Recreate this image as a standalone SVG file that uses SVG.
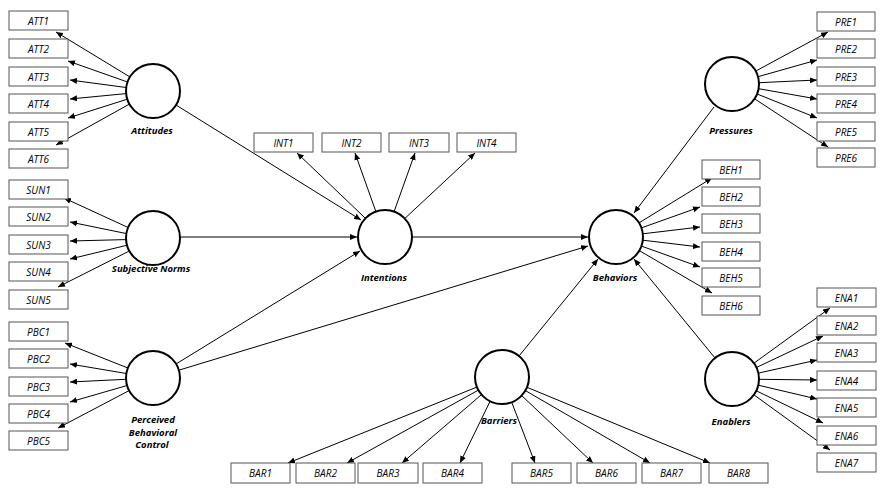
<svg xmlns="http://www.w3.org/2000/svg" width="887" height="493" viewBox="0 0 887 493">
<style>
.box rect{fill:#fff;stroke:#555;stroke-width:1}
.box text{font-family:"Open Sans",sans-serif;font-style:italic;font-size:10px;text-anchor:middle;fill:#000}
.lv circle{fill:#fff;stroke:#000;stroke-width:2}
.lv text{font-family:"Open Sans",sans-serif;font-style:italic;font-weight:bold;font-size:9.5px;text-anchor:middle;fill:#000}
#connectors line{stroke:#000;stroke-width:1;marker-end:url(#ah)}
</style>
<defs>
<marker id="ah" markerUnits="userSpaceOnUse" markerWidth="8" markerHeight="6" refX="7" refY="3" orient="auto">
<path d="M0,0 L7,3 L0,6 z" fill="#000"/>
</marker>
</defs>
<rect width="887" height="493" fill="#fff"/>
<g id="connectors">
<line x1="130" y1="77" x2="56" y2="32"/>
<line x1="127.5" y1="82" x2="68" y2="61"/>
<line x1="126.2" y1="87.5" x2="70" y2="80"/>
<line x1="126.1" y1="93.6" x2="70" y2="99"/>
<line x1="127.3" y1="99.2" x2="68" y2="118"/>
<line x1="129.4" y1="104.1" x2="56" y2="145"/>
<line x1="176" y1="105" x2="361" y2="220"/>
<line x1="128.5" y1="227.7" x2="64" y2="198"/>
<line x1="126.5" y1="233.6" x2="70" y2="222"/>
<line x1="126" y1="239.6" x2="70" y2="241"/>
<line x1="126.8" y1="245.3" x2="70" y2="259"/>
<line x1="128.9" y1="251.2" x2="58" y2="287"/>
<line x1="180" y1="237" x2="357" y2="237"/>
<line x1="127.9" y1="368" x2="65" y2="343"/>
<line x1="126.4" y1="373.5" x2="70" y2="364"/>
<line x1="126" y1="379.3" x2="70" y2="382"/>
<line x1="127.1" y1="385.5" x2="70" y2="402"/>
<line x1="129.1" y1="390.6" x2="58" y2="428"/>
<line x1="176" y1="364" x2="360" y2="251"/>
<line x1="178.8" y1="370.2" x2="588" y2="246"/>
<line x1="365.5" y1="218.4" x2="297" y2="153"/>
<line x1="375.9" y1="211.6" x2="355" y2="153"/>
<line x1="394.1" y1="211.6" x2="415" y2="153"/>
<line x1="404.7" y1="218.6" x2="475" y2="153"/>
<line x1="412" y1="237" x2="588" y2="237"/>
<line x1="639" y1="222.9" x2="712" y2="178"/>
<line x1="641.4" y1="227.9" x2="700" y2="207"/>
<line x1="642.8" y1="233.8" x2="700" y2="227"/>
<line x1="642.8" y1="240.2" x2="700" y2="247"/>
<line x1="641.4" y1="246.1" x2="700" y2="267"/>
<line x1="639.3" y1="250.6" x2="712" y2="293"/>
<line x1="755.7" y1="71.1" x2="828" y2="32"/>
<line x1="758" y1="76.7" x2="817" y2="60"/>
<line x1="759" y1="82.7" x2="817" y2="80"/>
<line x1="758.6" y1="88.7" x2="817" y2="99"/>
<line x1="757.1" y1="94" x2="817" y2="118"/>
<line x1="754.6" y1="98.8" x2="828" y2="147"/>
<line x1="714" y1="107" x2="634" y2="213"/>
<line x1="753.9" y1="363.2" x2="830" y2="308"/>
<line x1="756.4" y1="367.5" x2="823" y2="336"/>
<line x1="758.4" y1="373.1" x2="817" y2="360"/>
<line x1="759" y1="379.3" x2="817" y2="380"/>
<line x1="758.3" y1="385.2" x2="817" y2="399"/>
<line x1="756.3" y1="390.8" x2="823" y2="423"/>
<line x1="753.9" y1="394.8" x2="830" y2="450"/>
<line x1="715" y1="358" x2="634" y2="259"/>
<line x1="476.9" y1="387.1" x2="288" y2="463"/>
<line x1="478.4" y1="390.1" x2="347" y2="463"/>
<line x1="481.5" y1="394.6" x2="402" y2="463"/>
<line x1="490.1" y1="401.3" x2="460" y2="463"/>
<line x1="511.7" y1="402.2" x2="535" y2="463"/>
<line x1="521.6" y1="395.5" x2="593" y2="463"/>
<line x1="525.4" y1="390.6" x2="650" y2="463"/>
<line x1="527" y1="387.3" x2="710" y2="463"/>
<line x1="519" y1="356" x2="598" y2="259"/>
</g>
<g id="ATT1" class="box"><rect x="9" y="11" width="59" height="19"/><text x="38.5" y="24.5">ATT1</text></g>
<g id="ATT2" class="box"><rect x="9" y="39" width="59" height="19"/><text x="38.5" y="52.5">ATT2</text></g>
<g id="ATT3" class="box"><rect x="9" y="67" width="59" height="19"/><text x="38.5" y="80.5">ATT3</text></g>
<g id="ATT4" class="box"><rect x="9" y="94" width="59" height="19"/><text x="38.5" y="107.5">ATT4</text></g>
<g id="ATT5" class="box"><rect x="9" y="122" width="59" height="19"/><text x="38.5" y="135.5">ATT5</text></g>
<g id="ATT6" class="box"><rect x="9" y="149" width="59" height="19"/><text x="38.5" y="162.5">ATT6</text></g>
<g id="SUN1" class="box"><rect x="9" y="180" width="59" height="19"/><text x="38.5" y="193.5">SUN1</text></g>
<g id="SUN2" class="box"><rect x="9" y="207" width="59" height="19"/><text x="38.5" y="220.5">SUN2</text></g>
<g id="SUN3" class="box"><rect x="9" y="235" width="59" height="19"/><text x="38.5" y="248.5">SUN3</text></g>
<g id="SUN4" class="box"><rect x="9" y="262" width="59" height="19"/><text x="38.5" y="275.5">SUN4</text></g>
<g id="SUN5" class="box"><rect x="9" y="290" width="59" height="19"/><text x="38.5" y="303.5">SUN5</text></g>
<g id="PBC1" class="box"><rect x="9" y="322" width="59" height="19"/><text x="38.5" y="335.5">PBC1</text></g>
<g id="PBC2" class="box"><rect x="9" y="349" width="59" height="19"/><text x="38.5" y="362.5">PBC2</text></g>
<g id="PBC3" class="box"><rect x="9" y="377" width="59" height="19"/><text x="38.5" y="390.5">PBC3</text></g>
<g id="PBC4" class="box"><rect x="9" y="404" width="59" height="19"/><text x="38.5" y="417.5">PBC4</text></g>
<g id="PBC5" class="box"><rect x="9" y="431" width="59" height="19"/><text x="38.5" y="444.5">PBC5</text></g>
<g id="INT1" class="box"><rect x="254" y="133" width="59" height="19"/><text x="283.5" y="146.5">INT1</text></g>
<g id="INT2" class="box"><rect x="322" y="133" width="59" height="19"/><text x="351.5" y="146.5">INT2</text></g>
<g id="INT3" class="box"><rect x="389" y="133" width="60" height="19"/><text x="419" y="146.5">INT3</text></g>
<g id="INT4" class="box"><rect x="457" y="133" width="59" height="19"/><text x="486.5" y="146.5">INT4</text></g>
<g id="BEH1" class="box"><rect x="702" y="160" width="58" height="19"/><text x="731" y="173.5">BEH1</text></g>
<g id="BEH2" class="box"><rect x="702" y="187" width="58" height="19"/><text x="731" y="200.5">BEH2</text></g>
<g id="BEH3" class="box"><rect x="702" y="214" width="58" height="19"/><text x="731" y="227.5">BEH3</text></g>
<g id="BEH4" class="box"><rect x="702" y="242" width="58" height="19"/><text x="731" y="255.5">BEH4</text></g>
<g id="BEH5" class="box"><rect x="702" y="268" width="58" height="19"/><text x="731" y="281.5">BEH5</text></g>
<g id="BEH6" class="box"><rect x="702" y="296" width="58" height="19"/><text x="731" y="309.5">BEH6</text></g>
<g id="PRE1" class="box"><rect x="817" y="12" width="58" height="19"/><text x="846" y="25.5">PRE1</text></g>
<g id="PRE2" class="box"><rect x="817" y="39" width="58" height="19"/><text x="846" y="52.5">PRE2</text></g>
<g id="PRE3" class="box"><rect x="817" y="67" width="58" height="19"/><text x="846" y="80.5">PRE3</text></g>
<g id="PRE4" class="box"><rect x="817" y="94" width="58" height="19"/><text x="846" y="107.5">PRE4</text></g>
<g id="PRE5" class="box"><rect x="817" y="122" width="58" height="19"/><text x="846" y="135.5">PRE5</text></g>
<g id="PRE6" class="box"><rect x="817" y="148" width="58" height="19"/><text x="846" y="161.5">PRE6</text></g>
<g id="ENA1" class="box"><rect x="817" y="288" width="59" height="19"/><text x="846.5" y="301.5">ENA1</text></g>
<g id="ENA2" class="box"><rect x="817" y="316" width="59" height="19"/><text x="846.5" y="329.5">ENA2</text></g>
<g id="ENA3" class="box"><rect x="817" y="343" width="59" height="19"/><text x="846.5" y="356.5">ENA3</text></g>
<g id="ENA4" class="box"><rect x="817" y="371" width="59" height="19"/><text x="846.5" y="384.5">ENA4</text></g>
<g id="ENA5" class="box"><rect x="817" y="398" width="59" height="19"/><text x="846.5" y="411.5">ENA5</text></g>
<g id="ENA6" class="box"><rect x="817" y="426" width="59" height="19"/><text x="846.5" y="439.5">ENA6</text></g>
<g id="ENA7" class="box"><rect x="817" y="453" width="59" height="19"/><text x="846.5" y="466.5">ENA7</text></g>
<g id="BAR1" class="box"><rect x="231" y="463" width="59" height="20"/><text x="260.5" y="477">BAR1</text></g>
<g id="BAR2" class="box"><rect x="296" y="463" width="59" height="20"/><text x="325.5" y="477">BAR2</text></g>
<g id="BAR3" class="box"><rect x="358" y="463" width="60" height="20"/><text x="388" y="477">BAR3</text></g>
<g id="BAR4" class="box"><rect x="423" y="463" width="59" height="20"/><text x="452.5" y="477">BAR4</text></g>
<g id="BAR5" class="box"><rect x="512" y="463" width="59" height="20"/><text x="541.5" y="477">BAR5</text></g>
<g id="BAR6" class="box"><rect x="577" y="463" width="59" height="20"/><text x="606.5" y="477">BAR6</text></g>
<g id="BAR7" class="box"><rect x="642" y="463" width="59" height="20"/><text x="671.5" y="477">BAR7</text></g>
<g id="BAR8" class="box"><rect x="709" y="463" width="59" height="20"/><text x="738.5" y="477">BAR8</text></g>
<g id="Attitudes" class="lv"><circle cx="153" cy="91" r="27"/><text x="152" y="134">Attitudes</text></g>
<g id="SubjectiveNorms" class="lv"><circle cx="153" cy="238" r="27"/><text x="151" y="272">Subjective Norms</text></g>
<g id="PBC" class="lv"><circle cx="153" cy="378" r="27"/><text x="153" y="423">Perceived</text><text x="153" y="436">Behavioral</text><text x="152" y="448">Control</text></g>
<g id="Intentions" class="lv"><circle cx="385" cy="237" r="27"/><text x="384" y="281">Intentions</text></g>
<g id="Behaviors" class="lv"><circle cx="616" cy="237" r="27"/><text x="615" y="281">Behaviors</text></g>
<g id="Pressures" class="lv"><circle cx="732" cy="84" r="27"/><text x="731" y="134">Pressures</text></g>
<g id="Enablers" class="lv"><circle cx="732" cy="379" r="27"/><text x="731" y="425">Enablers</text></g>
<g id="Barriers" class="lv"><circle cx="502" cy="377" r="27"/><text x="499" y="424">Barriers</text></g>
</svg>
